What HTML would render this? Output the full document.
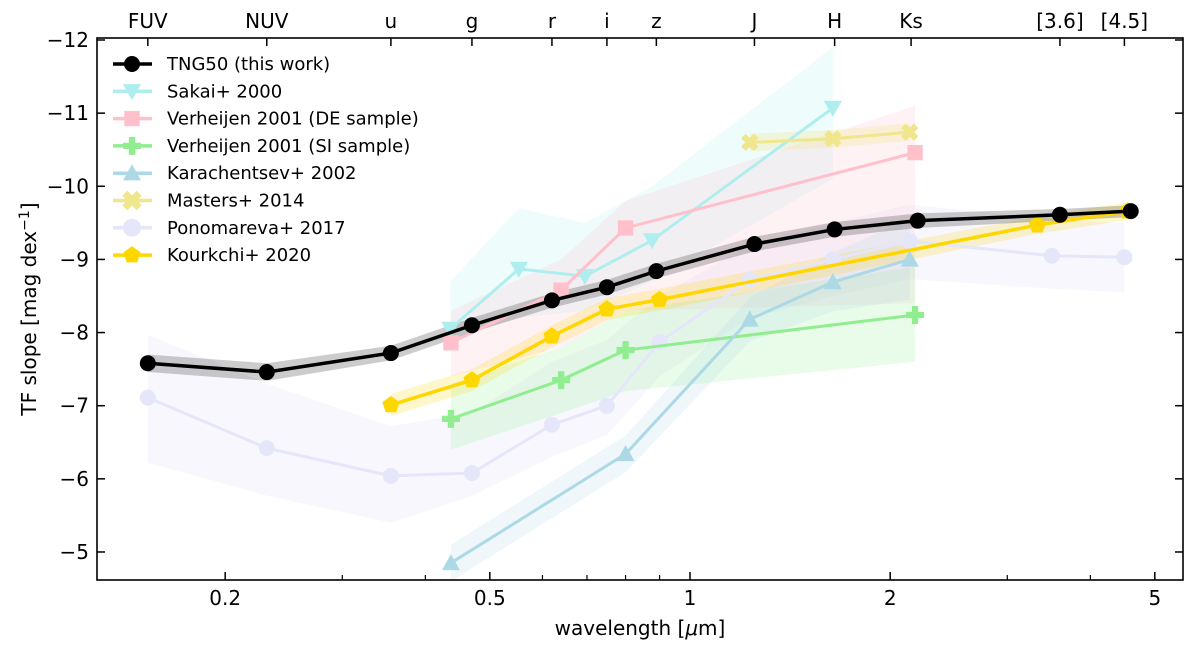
<!DOCTYPE html>
<html><head><meta charset="utf-8"><style>
body{margin:0;background:#fff}
svg text{font-family:"DejaVu Sans","Liberation Sans",sans-serif;fill:#000}
</style></head><body>
<svg id="chart" width="1200" height="650" viewBox="0 0 1200 650" xmlns="http://www.w3.org/2000/svg">
<g id="bands"></g><g id="lines"></g><g id="axes"></g><g id="legend"></g>
</svg>
<script>
// data
const tngLam=[0.153,0.231,0.355,0.47,0.62,0.75,0.89,1.25,1.65,2.2,3.6,4.6];
const tngVal=[-7.58,-7.46,-7.72,-8.10,-8.44,-8.62,-8.84,-9.21,-9.41,-9.53,-9.61,-9.66];
const tngErr=[0.12,0.12,0.1,0.1,0.1,0.1,0.1,0.1,0.1,0.1,0.08,0.08];
const sakLam=[0.436,0.553,0.695,0.877,1.64];
const sakVal=[-8.05,-8.87,-8.77,-9.26,-11.07];
const sakLo=[-7.9,-8.2,-8.3,-8.7,-10.1];
const sakHi=[-8.7,-9.7,-9.5,-10.0,-11.9];
const deLam=[0.437,0.64,0.80,2.18];
const deVal=[-7.86,-8.58,-9.43,-10.46];
const deLo=[-7.4,-7.8,-8.3,-8.4];
const deHi=[-8.3,-9.0,-9.8,-11.1];
const siLam=[0.437,0.64,0.80,2.18];
const siVal=[-6.82,-7.35,-7.76,-8.24];
const siLo=[-6.4,-6.9,-7.2,-7.6];
const siHi=[-7.3,-7.8,-8.3,-8.9];
const kaLam=[0.437,0.80,1.23,1.64,2.14];
const kaVal=[-4.85,-6.34,-8.18,-8.69,-9.0];
const kaErr=[0.25,0.25,0.3,0.4,0.55];
const maLam=[1.23,1.64,2.14];
const maVal=[-10.6,-10.65,-10.74];
const maErr=[0.12,0.12,0.12];
const poLam=[0.153,0.231,0.355,0.47,0.62,0.75,0.90,1.23,1.64,2.14,3.5,4.5];
const poVal=[-7.11,-6.42,-6.04,-6.08,-6.74,-7.0,-7.87,-8.72,-9.0,-9.25,-9.05,-9.03];
const poLo=[-6.22,-5.77,-5.4,-5.77,-6.3,-6.6,-7.4,-8.2,-8.5,-8.73,-8.6,-8.55];
const poHi=[-7.97,-7.3,-6.72,-6.9,-7.6,-7.9,-8.5,-9.2,-9.5,-9.75,-9.55,-9.5];
const koLam=[0.355,0.47,0.62,0.75,0.90,3.33,4.55];
const koVal=[-7.01,-7.35,-7.95,-8.32,-8.45,-9.47,-9.66];
const koErr=[0.15,0.15,0.15,0.15,0.15,0.12,0.12];
const bandNames=["FUV","NUV","u","g","r","i","z","J","H","Ks","[3.6]","[4.5]"];
const bandLam=[0.153,0.231,0.355,0.47,0.62,0.75,0.89,1.25,1.65,2.15,3.6,4.5];
const xTickVals=[0.2,0.5,1,2,5];
const xTickLabels=["0.2","0.5","1","2","5"];
const yTickVals=[-12,-11,-10,-9,-8,-7,-6,-5];
const yTickLabels=["\u221212","\u221211","\u221210","\u22129","\u22128","\u22127","\u22126","\u22125"];

const L=97,R=1183,T=38,B=580;
const X=l=>690+665*Math.log10(l);
const Y=v=>40+(v+12)*73.14;
const NS="http://www.w3.org/2000/svg";
function mk(tag,attrs,parent){const e=document.createElementNS(NS,tag);for(const k in attrs)e.setAttribute(k,attrs[k]);parent.appendChild(e);return e;}
const gB=document.getElementById('bands'),gL=document.getElementById('lines'),gA=document.getElementById('axes'),gG=document.getElementById('legend');

function band(lam,lo,hi,color,op,name){
  let pts=lam.map((l,i)=>X(l)+','+Y(lo[i])).concat(lam.map((l,i)=>X(l)+','+Y(hi[i])).reverse());
  const p=mk('polygon',{points:pts.join(' '),fill:color,'fill-opacity':op},gB);
  
  
}
function marker(type,x,y,color,g,s){
  let e;
  if(type==='o')e=mk('circle',{cx:x,cy:y,r:s,fill:color},g);
  else if(type==='v')e=mk('polygon',{points:`${x-s},${y-s*0.8} ${x+s},${y-s*0.8} ${x},${y+s}`,fill:color},g);
  else if(type==='^')e=mk('polygon',{points:`${x-s},${y+s*0.8} ${x+s},${y+s*0.8} ${x},${y-s}`,fill:color},g);
  else if(type==='s')e=mk('rect',{x:x-s*0.85,y:y-s*0.85,width:s*1.7,height:s*1.7,fill:color},g);
  else if(type==='P'){const a=s*0.35;e=mk('polygon',{points:`${x-a},${y-s} ${x+a},${y-s} ${x+a},${y-a} ${x+s},${y-a} ${x+s},${y+a} ${x+a},${y+a} ${x+a},${y+s} ${x-a},${y+s} ${x-a},${y+a} ${x-s},${y+a} ${x-s},${y-a} ${x-a},${y-a}`,fill:color},g);}
  else if(type==='X'){e=mk('path',{d:`M${x-s*0.8},${y-s*0.8}L${x+s*0.8},${y+s*0.8}M${x+s*0.8},${y-s*0.8}L${x-s*0.8},${y+s*0.8}`,stroke:color,'stroke-width':s*0.8},g);}
  else if(type==='p'){let pts=[];for(let k=0;k<5;k++){const a=-Math.PI/2+k*2*Math.PI/5;pts.push((x+s*Math.cos(a))+','+(y+s*Math.sin(a)));}e=mk('polygon',{points:pts.join(' '),fill:color},g);}
  return e;
}
function series(lam,val,color,type,name,ms,lw){
  const g=mk('g',{},gL);
  
  
  mk('polyline',{points:lam.map((l,i)=>X(l)+','+Y(val[i])).join(' '),fill:'none',stroke:color,'stroke-width':lw},g);
  lam.forEach((l,i)=>{const m=marker(type,X(l),Y(val[i]),color,g,ms);
    
    });
}
const pm=(v,e,s)=>v.map((x,i)=>x+s*e[i]);
band(poLam,poLo,poHi,'#e6e6fa',0.3,'ponomareva-band');
band(sakLam,sakLo,sakHi,'#afeeee',0.2,'sakai-band');
band(deLam,deLo,deHi,'#ffc0cb',0.2,'verheijen-de-band');
band(siLam,siLo,siHi,'#90ee90',0.2,'verheijen-si-band');
band(kaLam,pm(kaVal,kaErr,1),pm(kaVal,kaErr,-1),'#add8e6',0.2,'karachentsev-band');
band(maLam,pm(maVal,maErr,1),pm(maVal,maErr,-1),'#f0e68c',0.3,'masters-band');
band(koLam,pm(koVal,koErr,1),pm(koVal,koErr,-1),'#ffd700',0.2,'kourkchi-band');
band(tngLam,pm(tngVal,tngErr,1),pm(tngVal,tngErr,-1),'#000',0.2,'tng50-band');
series(poLam,poVal,'#e6e6fa','o','ponomareva-line',8,3);
series(sakLam,sakVal,'#afeeee','v','sakai-line',9,3);
series(deLam,deVal,'#ffc0cb','s','verheijen-de-line',9,3);
series(siLam,siVal,'#90ee90','P','verheijen-si-line',9,3);
series(kaLam,kaVal,'#add8e6','^','karachentsev-line',9,3);
series(maLam,maVal,'#f0e68c','X','masters-line',8,3);
series(koLam,koVal,'#ffd700','p','kourkchi-line',9,3.5);
series(tngLam,tngVal,'#000','o','tng50-line',8,3.5);

// axes frame
const fr=mk('rect',{x:L,y:T,width:R-L,height:B-T,fill:'none',stroke:'#000','stroke-width':1.6},gA);


yTickVals.forEach((v,i)=>{const y=Y(v);
  mk('line',{x1:L,x2:L+8,y1:y,y2:y,stroke:'#000','stroke-width':1.5},gA);
  mk('line',{x1:R,x2:R-8,y1:y,y2:y,stroke:'#000','stroke-width':1.5},gA);
  const t=mk('text',{x:L-8,y:y+7,'text-anchor':'end','font-size':20},gA);t.textContent=yTickLabels[i];
  
  
});
xTickVals.forEach((v,i)=>{const x=X(v);
  mk('line',{x1:x,x2:x,y1:B,y2:B-8,stroke:'#000','stroke-width':1.5},gA);
  const t=mk('text',{x:x,y:605,'text-anchor':'middle','font-size':20},gA);t.textContent=xTickLabels[i];
  
  
});
[0.3,0.4,0.6,0.7,0.8,0.9,3,4].forEach(v=>{const x=X(v);mk('line',{x1:x,x2:x,y1:B,y2:B-5,stroke:'#000','stroke-width':1.2},gA);});
bandLam.forEach((l,i)=>{const x=X(l);
  mk('line',{x1:x,x2:x,y1:T,y2:T+8,stroke:'#000','stroke-width':1.5},gA);
  const t=mk('text',{x:x,y:28,'text-anchor':'middle','font-size':20},gA);t.textContent=bandNames[i];
  
  
});
const xl=mk('text',{x:640,y:635,'text-anchor':'middle','font-size':20},gA);xl.innerHTML='wavelength [<tspan font-style="italic">μ</tspan>m]';


const yl=mk('text',{x:0,y:0,'text-anchor':'middle','font-size':20,transform:'translate(36,309) rotate(-90)'},gA);yl.innerHTML='TF slope [mag dex<tspan dy="-7" font-size="14">−1</tspan><tspan dy="7">]</tspan>';



// legend
const legNames=["TNG50 (this work)","Sakai+ 2000","Verheijen 2001 (DE sample)","Verheijen 2001 (SI sample)","Karachentsev+ 2002","Masters+ 2014","Ponomareva+ 2017","Kourkchi+ 2020"];
const legColors=["#000","#afeeee","#ffc0cb","#90ee90","#add8e6","#f0e68c","#e6e6fa","#ffd700"];
const legTypes=["o","v","s","P","^","X","o","p"];
legNames.forEach((n,i)=>{const y=64+i*27.3;
  const g=mk('g',{},gG);
  
  
  mk('line',{x1:113,x2:152,y1:y,y2:y,stroke:legColors[i],'stroke-width':3.5},g);
  marker(legTypes[i],132,y,legColors[i],g,i===0?8:9);
  const t=mk('text',{x:167,y:y+6,'font-size':18},g);t.textContent=n;
});
</script>
</body></html>
